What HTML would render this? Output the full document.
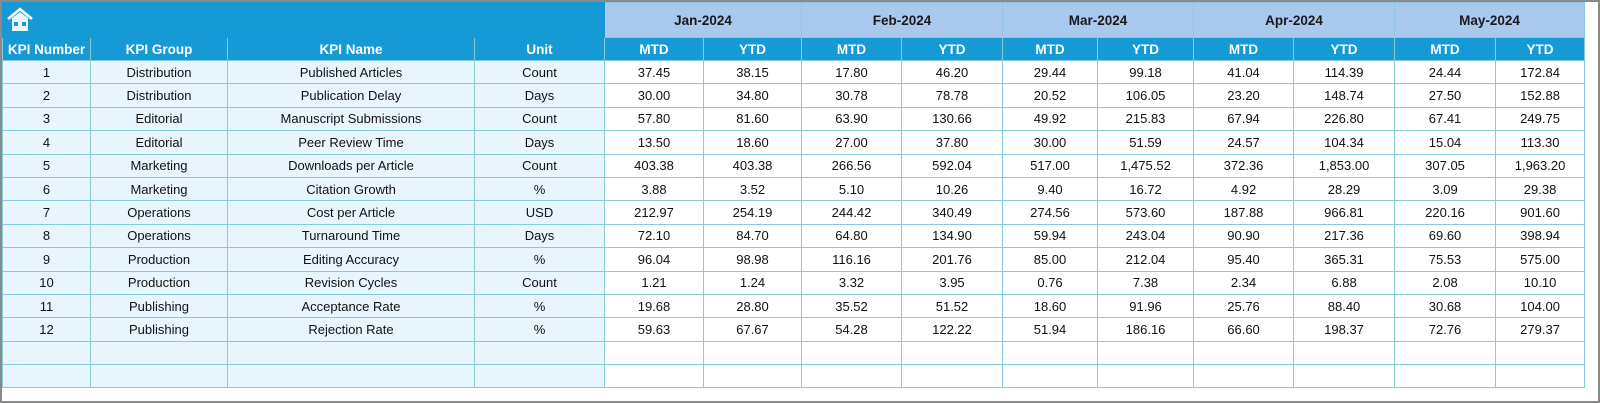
<!DOCTYPE html>
<html><head><meta charset="utf-8"><style>
html,body{margin:0;padding:0;background:#fff;}
body{width:1600px;height:403px;position:relative;overflow:hidden;font-family:"Liberation Sans",sans-serif;}
#frame{position:absolute;left:0;top:0;width:1600px;height:403px;box-sizing:border-box;border:2px solid #8a8a8a;}
table{position:absolute;left:2px;top:2px;width:1582px;border-collapse:collapse;table-layout:fixed;}
td{border:1px solid #86ccd8;text-align:center;font-size:13px;color:#111;padding:0;height:22.4px;white-space:nowrap;overflow:hidden;}
tr.h1 td{height:34px;font-weight:bold;font-size:13.5px;}
tr.h2 td{height:22px;background:#169ad6;color:#fff;font-weight:bold;font-size:13.5px;}
td.top{background:#169ad6;border-color:#169ad6;text-align:left;}
td.mon{background:#a8c9ed;color:#1a1a1a;border-color:#8fc6e6;}
td.l{background:#e9f5fc;}
</style></head><body>
<div id="frame"></div>
<table>
<colgroup>
<col style="width:88px"><col style="width:137px"><col style="width:247px"><col style="width:130px">
<col style="width:99px"><col style="width:98px"><col style="width:100px"><col style="width:101px">
<col style="width:95px"><col style="width:96px"><col style="width:100px"><col style="width:101px">
<col style="width:101px"><col style="width:89px">
</colgroup>
<tr class="h1"><td class="top" colspan="4"><svg width="28" height="26" viewBox="0 0 28 26" style="margin-left:3px;vertical-align:middle"><path d="M2 12 L14 2 L26 12" fill="none" stroke="#fff" stroke-width="2.5"/><path d="M6 11 L6 24 L22 24 L22 11 L14 5 Z" fill="#e8f6fc"/><rect x="8" y="15" width="4" height="4" fill="#169ad6"/><rect x="16" y="15" width="4" height="4" fill="#169ad6"/></svg></td>
<td class="mon" colspan="2">Jan-2024</td><td class="mon" colspan="2">Feb-2024</td><td class="mon" colspan="2">Mar-2024</td><td class="mon" colspan="2">Apr-2024</td><td class="mon" colspan="2">May-2024</td></tr>
<tr class="h2"><td>KPI Number</td><td>KPI Group</td><td>KPI Name</td><td>Unit</td><td>MTD</td><td>YTD</td><td>MTD</td><td>YTD</td><td>MTD</td><td>YTD</td><td>MTD</td><td>YTD</td><td>MTD</td><td>YTD</td></tr>
<tr><td class="l">1</td><td class="l">Distribution</td><td class="l">Published Articles</td><td class="l">Count</td><td>37.45</td><td>38.15</td><td>17.80</td><td>46.20</td><td>29.44</td><td>99.18</td><td>41.04</td><td>114.39</td><td>24.44</td><td>172.84</td></tr>
<tr><td class="l">2</td><td class="l">Distribution</td><td class="l">Publication Delay</td><td class="l">Days</td><td>30.00</td><td>34.80</td><td>30.78</td><td>78.78</td><td>20.52</td><td>106.05</td><td>23.20</td><td>148.74</td><td>27.50</td><td>152.88</td></tr>
<tr><td class="l">3</td><td class="l">Editorial</td><td class="l">Manuscript Submissions</td><td class="l">Count</td><td>57.80</td><td>81.60</td><td>63.90</td><td>130.66</td><td>49.92</td><td>215.83</td><td>67.94</td><td>226.80</td><td>67.41</td><td>249.75</td></tr>
<tr><td class="l">4</td><td class="l">Editorial</td><td class="l">Peer Review Time</td><td class="l">Days</td><td>13.50</td><td>18.60</td><td>27.00</td><td>37.80</td><td>30.00</td><td>51.59</td><td>24.57</td><td>104.34</td><td>15.04</td><td>113.30</td></tr>
<tr><td class="l">5</td><td class="l">Marketing</td><td class="l">Downloads per Article</td><td class="l">Count</td><td>403.38</td><td>403.38</td><td>266.56</td><td>592.04</td><td>517.00</td><td>1,475.52</td><td>372.36</td><td>1,853.00</td><td>307.05</td><td>1,963.20</td></tr>
<tr><td class="l">6</td><td class="l">Marketing</td><td class="l">Citation Growth</td><td class="l">%</td><td>3.88</td><td>3.52</td><td>5.10</td><td>10.26</td><td>9.40</td><td>16.72</td><td>4.92</td><td>28.29</td><td>3.09</td><td>29.38</td></tr>
<tr><td class="l">7</td><td class="l">Operations</td><td class="l">Cost per Article</td><td class="l">USD</td><td>212.97</td><td>254.19</td><td>244.42</td><td>340.49</td><td>274.56</td><td>573.60</td><td>187.88</td><td>966.81</td><td>220.16</td><td>901.60</td></tr>
<tr><td class="l">8</td><td class="l">Operations</td><td class="l">Turnaround Time</td><td class="l">Days</td><td>72.10</td><td>84.70</td><td>64.80</td><td>134.90</td><td>59.94</td><td>243.04</td><td>90.90</td><td>217.36</td><td>69.60</td><td>398.94</td></tr>
<tr><td class="l">9</td><td class="l">Production</td><td class="l">Editing Accuracy</td><td class="l">%</td><td>96.04</td><td>98.98</td><td>116.16</td><td>201.76</td><td>85.00</td><td>212.04</td><td>95.40</td><td>365.31</td><td>75.53</td><td>575.00</td></tr>
<tr><td class="l">10</td><td class="l">Production</td><td class="l">Revision Cycles</td><td class="l">Count</td><td>1.21</td><td>1.24</td><td>3.32</td><td>3.95</td><td>0.76</td><td>7.38</td><td>2.34</td><td>6.88</td><td>2.08</td><td>10.10</td></tr>
<tr><td class="l">11</td><td class="l">Publishing</td><td class="l">Acceptance Rate</td><td class="l">%</td><td>19.68</td><td>28.80</td><td>35.52</td><td>51.52</td><td>18.60</td><td>91.96</td><td>25.76</td><td>88.40</td><td>30.68</td><td>104.00</td></tr>
<tr><td class="l">12</td><td class="l">Publishing</td><td class="l">Rejection Rate</td><td class="l">%</td><td>59.63</td><td>67.67</td><td>54.28</td><td>122.22</td><td>51.94</td><td>186.16</td><td>66.60</td><td>198.37</td><td>72.76</td><td>279.37</td></tr>
<tr><td class="l"></td><td class="l"></td><td class="l"></td><td class="l"></td><td></td><td></td><td></td><td></td><td></td><td></td><td></td><td></td><td></td><td></td></tr>
<tr><td class="l"></td><td class="l"></td><td class="l"></td><td class="l"></td><td></td><td></td><td></td><td></td><td></td><td></td><td></td><td></td><td></td><td></td></tr>
</table>
</body></html>
